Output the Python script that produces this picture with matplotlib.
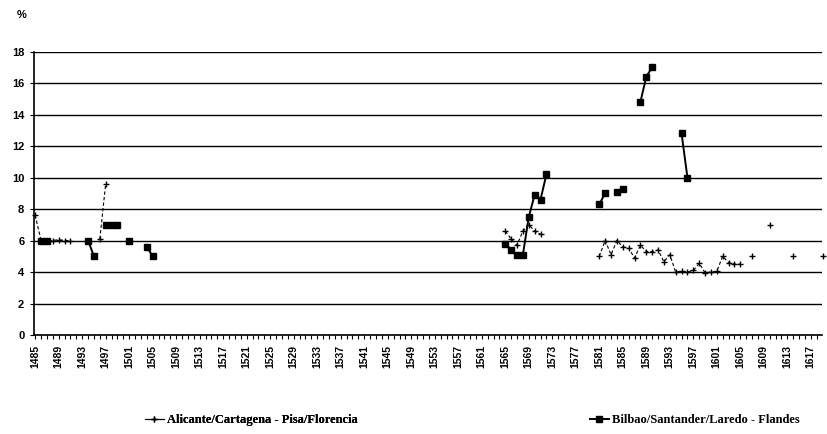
import numpy as np
import pandas as pd
import matplotlib
matplotlib.use("Agg")
import matplotlib.pyplot as plt
from matplotlib.lines import Line2D

# ---- data ----
ali_years = [1485, 1486, 1487, 1488, 1489, 1490, 1491,
             1496, 1497,
             1565, 1566, 1567, 1568, 1569, 1570, 1571,
             1581, 1582, 1583, 1584, 1585, 1586, 1587, 1588, 1589, 1590,
             1591, 1592, 1593, 1594, 1595, 1596, 1597, 1598, 1599, 1600,
             1601, 1602, 1603, 1604, 1605,
             1607, 1610, 1614, 1619]
ali_vals = [7.6, 6.0, 6.0, 6.0, 6.05, 6.0, 6.0,
            6.1, 9.6,
            6.6, 6.1, 5.7, 6.6, 7.0, 6.6, 6.4,
            5.0, 6.0, 5.1, 6.0, 5.6, 5.5, 4.9, 5.7, 5.3, 5.3,
            5.4, 4.65, 5.1, 4.0, 4.05, 4.0, 4.1, 4.55, 3.95, 4.0,
            4.05, 5.0, 4.6, 4.5, 4.5,
            5.0, 7.0, 5.0, 5.0]

bil_years = [1486, 1487, 1494, 1495, 1497, 1498, 1499, 1501, 1504, 1505,
             1565, 1566, 1567, 1568, 1569, 1570, 1571, 1572,
             1581, 1582, 1584, 1585, 1588, 1589, 1590, 1595, 1596]
bil_vals = [6.0, 6.0, 6.0, 5.0, 7.0, 7.0, 7.0, 6.0, 5.6, 5.0,
            5.8, 5.4, 5.1, 5.1, 7.5, 8.9, 8.6, 10.2,
            8.3, 9.0, 9.1, 9.3, 14.8, 16.4, 17.0, 12.8, 10.0]

tick_years = list(range(1485, 1618, 4))
y_ticks = list(range(0, 19, 2))
label_ali = "Alicante/Cartagena - Pisa/Florencia"
label_bil = "Bilbao/Santander/Laredo - Flandes"

# ---- figure ----
W, H = 828, 434
fig = plt.figure(figsize=(W / 100, H / 100), dpi=100)
ax = fig.add_axes([34 / W, 1 - 335 / H, (822 - 34) / W, (335 - 51.5) / H])

years = np.arange(1485, 1621)
ali = pd.Series(ali_vals, index=ali_years).reindex(years)
bil = pd.Series(bil_vals, index=bil_years).reindex(years)

ali_style = dict(color="black", lw=0.8, ls=(0, (3, 2)), marker="+", ms=4, mew=1.0)
bil_style = dict(color="black", lw=1.4, ls="-", marker="s", ms=4.6)

ax.plot(years, ali.values, clip_on=False, zorder=3, **ali_style)
ax.plot(years, bil.values, clip_on=False, zorder=4, **bil_style)

ax.set_xlim(1484.8, 1618.9)
ax.set_ylim(0, 18)

ax.set_yticks(y_ticks)
ax.yaxis.grid(True, color="black", lw=1.0)
ax.set_axisbelow(True)

ax.set_xticks(tick_years)
ax.set_xticks(years[years <= 1618], minor=True)
ax.set_xticklabels([str(y) for y in tick_years], rotation=90,
                   fontsize=7.5, fontweight="bold", family="Liberation Sans")
for lbl in ax.get_yticklabels():
    lbl.set_fontsize(8)
    lbl.set_fontweight("bold")
    lbl.set_family("Liberation Sans")

ax.tick_params(axis="x", which="both", direction="out", length=3, width=0.8, pad=4)
ax.tick_params(axis="y", direction="out", length=3, width=0.8, pad=4)

for s in ["top", "right"]:
    ax.spines[s].set_visible(False)
ax.spines["left"].set_linewidth(1.2)
ax.spines["bottom"].set_linewidth(1.2)

fig.text(22 / W, 1 - 15 / H, "%", fontsize=8, fontweight="bold",
         family="Liberation Sans", ha="center", va="center")

prop = {"family": "Liberation Serif", "weight": "bold", "size": 9}
common = dict(loc="center left", frameon=False, handlelength=1.5,
              handletextpad=0.3, borderpad=0, borderaxespad=0, prop=prop)
h1 = Line2D([], [], **{**ali_style, "ls": "-"})
h2 = Line2D([], [], **bil_style)
leg1 = fig.legend([h1], [label_ali], bbox_to_anchor=(145 / W, 1 - 420 / H), **common)
fig.add_artist(leg1)
fig.legend([h2], [label_bil], bbox_to_anchor=(590 / W, 1 - 420 / H), **common)

fig.savefig("out.png", dpi=100)
